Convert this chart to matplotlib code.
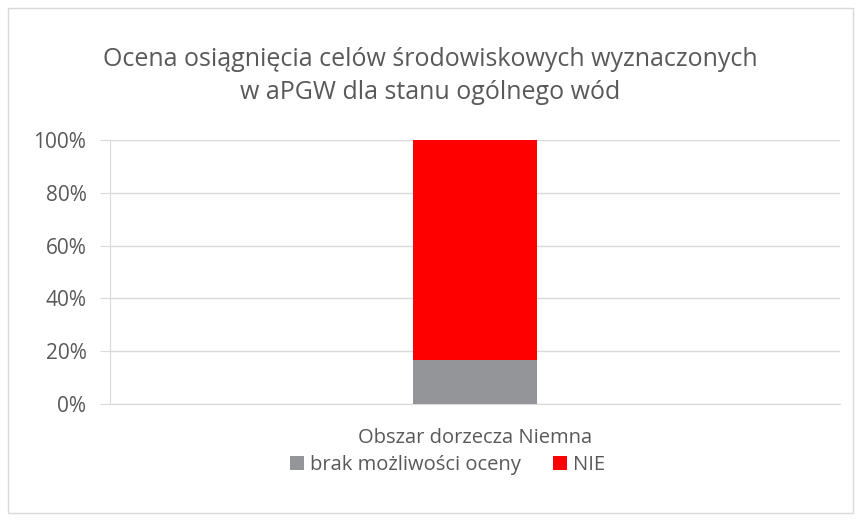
import matplotlib.pyplot as plt
from matplotlib.patches import Rectangle
from matplotlib.ticker import PercentFormatter

plt.rcParams['font.family'] = ['Open Sans', 'DejaVu Sans']

categories = ["Obszar dorzecza Niemna"]
series_names = ["brak możliwości oceny", "NIE"]
series_values = [[16.7], [83.3]]
colors = ["#939598", "#ff0000"]
title = "Ocena osiągnięcia celów środowiskowych wyznaczonych\nw aPGW dla stanu ogólnego wód"

text_col = "#595959"
grid_col = "#d9d9d9"

fig = plt.figure(figsize=(8.61, 5.2), dpi=100)
fig.patches.append(Rectangle((0.009, 0.013), 0.982, 0.972, transform=fig.transFigure,
                             fill=False, edgecolor=grid_col, linewidth=1.0))
ax = fig.add_axes([110 / 861, 1 - 404 / 520, 730 / 861, 264 / 520])

bottom = [0.0] * len(categories)
for name, vals, c in zip(series_names, series_values, colors):
    ax.bar(categories, vals, bottom=bottom, width=0.17, color=c, label=name, zorder=3)
    bottom = [b + v for b, v in zip(bottom, vals)]

ax.set_xlim(-0.5, 0.5)
ax.set_ylim(0, 100)
ax.set_yticks(range(0, 101, 20))
ax.yaxis.set_major_formatter(PercentFormatter(decimals=0))
ax.grid(axis="y", color=grid_col, linewidth=1.0, zorder=0)

for s in ["top", "right"]:
    ax.spines[s].set_visible(False)
ax.spines["left"].set_color(grid_col)
ax.spines["bottom"].set_color(grid_col)
ax.tick_params(axis="y", colors=grid_col, labelcolor=text_col, labelsize=15, length=7, pad=10)
ax.tick_params(axis="x", length=0, labelcolor=text_col, labelsize=14.5, pad=17)

fig.text(0.5, 1 - 76 / 520, title, ha="center", va="center", fontsize=18,
         color=text_col, linespacing=1.45)

fig.legend(loc="center", bbox_to_anchor=(0.52, 1 - 465 / 520), ncol=2, frameon=False,
           fontsize=14.5, labelcolor=text_col, handlelength=0.7, handleheight=0.7,
           handletextpad=0.3, columnspacing=1.6)

fig.savefig("out.png", dpi=100)
